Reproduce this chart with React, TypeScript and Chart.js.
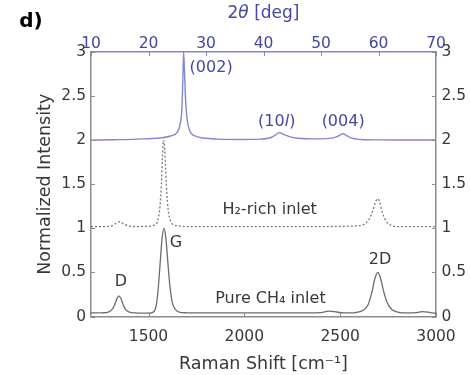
import React, { useEffect, useRef } from "react";
import { Chart, registerables } from "chart.js";

Chart.register(...registerables);

// ---- tick values / labels ----
const ramanTicks = [1500, 2000, 2500, 3000];
const thetaTicks = [10, 20, 30, 40, 50, 60, 70];
const intensityTicks = [0, 0.5, 1, 1.5, 2, 2.5, 3];
const intensityTickLabels = ["0", "0.5", "1", "1.5", "2", "2.5", "3"];

// ---- Raman spectrum, pure CH4 inlet ----
const ch4Shift = [
  1200, 1260, 1290, 1310, 1325, 1335, 1345, 1355, 1365, 1380, 1400, 1430, 1480, 1515,
  1530, 1540, 1550, 1560, 1570, 1580, 1590, 1600, 1611, 1624, 1640, 1660, 1700, 1800,
  2000, 2250, 2400, 2440, 2470, 2520, 2580, 2620, 2645, 2665, 2680, 2696, 2710, 2725,
  2745, 2770, 2800, 2850, 2900, 2930, 2970, 3000,
];
const ch4Intensity = [
  0.04, 0.042, 0.05, 0.08, 0.14, 0.2, 0.235, 0.21, 0.15, 0.08, 0.05, 0.04, 0.038, 0.042,
  0.06, 0.12, 0.3, 0.58, 0.87, 1.0, 0.9, 0.64, 0.36, 0.16, 0.08, 0.05, 0.042, 0.04,
  0.04, 0.04, 0.045, 0.06, 0.055, 0.04, 0.045, 0.07, 0.13, 0.27, 0.42, 0.5, 0.44, 0.3,
  0.16, 0.08, 0.05, 0.04, 0.045, 0.055, 0.045, 0.035,
];

// ---- Raman spectrum, H2-rich inlet ----
const h2Shift = [
  1200, 1280, 1310, 1330, 1350, 1370, 1395, 1440, 1500, 1535, 1550, 1560, 1567, 1573,
  1578, 1583, 1589, 1595, 1602, 1612, 1627, 1650, 1700, 2000, 2400, 2550, 2620, 2650,
  2670, 2685, 2696, 2706, 2720, 2740, 2765, 2800, 3000,
];
const h2Intensity = [
  1.02, 1.02, 1.03, 1.055, 1.075, 1.05, 1.03, 1.02, 1.025, 1.04, 1.1, 1.25, 1.5, 1.8,
  2.0, 1.95, 1.7, 1.42, 1.22, 1.1, 1.045, 1.03, 1.02, 1.02, 1.02, 1.025, 1.04, 1.1,
  1.2, 1.3, 1.335, 1.3, 1.18, 1.08, 1.035, 1.02, 1.02,
];

// ---- XRD pattern ----
const xrdAngle = [
  10, 14, 18, 22, 24, 25, 25.5, 25.8, 26.0, 26.1, 26.25, 26.45, 26.75, 27.2, 28, 29.5,
  32, 36, 39.5, 41.3, 42.1, 42.8, 43.5, 44.5, 46, 49, 51.5, 52.8, 53.8, 54.4, 55.2, 57,
  60, 65, 70,
];
const xrdIntensity = [
  2.0, 2.005, 2.012, 2.025, 2.05, 2.09, 2.18, 2.35, 2.75, 3.0, 2.8, 2.45, 2.22, 2.1, 2.05, 2.025,
  2.012, 2.008, 2.012, 2.03, 2.06, 2.085, 2.065, 2.04, 2.022, 2.015, 2.02, 2.04, 2.072, 2.055, 2.025, 2.008,
  2.003, 2.002, 2.002,
];

// ---- annotation texts ----
const xrdLabels = [
  { parts: [{ t: "(002)" }], x: 27.15, y: 2.815, align: "left" },
  { parts: [{ t: "(10" }, { t: "l", italic: true }, { t: ")" }], x: 42.3, y: 2.21, align: "center" },
  { parts: [{ t: "(004)" }], x: 53.85, y: 2.21, align: "center" },
];
const ramanLabels = [
  { text: "H₂-rich inlet", x: 2132, y: 1.21 },
  { text: "Pure CH₄ inlet", x: 2136, y: 0.195 },
  { text: "D", x: 1356, y: 0.395 },
  { text: "G", x: 1643, y: 0.837 },
  { text: "2D", x: 2708, y: 0.64 },
];

const FONT = "'DejaVu Sans', 'Liberation Sans', sans-serif";
const BLUE_TEXT = "#4646a6";
const BLUE_LINE = "#8686d2";
const GRAY_AXIS = "#8c8c8c";
const TEXT = "#383838";

function toPoints(xs: number[], ys: number[]) {
  return xs.map((x, i) => ({ x, y: ys[i] }));
}

function drawParts(ctx: CanvasRenderingContext2D, parts: any[], x: number, y: number, size: number, align: string) {
  const fonts = parts.map((p) => `${p.italic ? "italic " : ""}${size}px ${FONT}`);
  let total = 0;
  const widths = parts.map((p, i) => {
    ctx.font = fonts[i];
    const w = ctx.measureText(p.t).width;
    total += w;
    return w;
  });
  let cx = align === "center" ? x - total / 2 : x;
  ctx.textAlign = "left";
  ctx.textBaseline = "middle";
  parts.forEach((p, i) => {
    ctx.font = fonts[i];
    ctx.fillText(p.t, cx, y);
    cx += widths[i];
  });
}

const decorPlugin = {
  id: "decor",
  afterDraw(chart: any) {
    const { ctx, chartArea: a, scales } = chart;
    ctx.save();
    // inward tick marks
    ctx.lineWidth = 1;
    ctx.strokeStyle = GRAY_AXIS;
    ctx.beginPath();
    for (const v of intensityTicks) {
      const py = Math.round(scales.y.getPixelForValue(v)) + 0.5;
      ctx.moveTo(a.left, py);
      ctx.lineTo(a.left + 4, py);
      ctx.moveTo(a.right, py);
      ctx.lineTo(a.right - 4, py);
    }
    for (const v of ramanTicks) {
      const px = Math.round(scales.x.getPixelForValue(v)) + 0.5;
      ctx.moveTo(px, a.bottom);
      ctx.lineTo(px, a.bottom - 4);
    }
    ctx.stroke();
    ctx.strokeStyle = BLUE_LINE;
    ctx.beginPath();
    for (const v of thetaTicks) {
      const px = Math.round(scales.xTop.getPixelForValue(v)) + 0.5;
      ctx.moveTo(px, a.top);
      ctx.lineTo(px, a.top + 4);
    }
    ctx.stroke();

    // XRD annotations
    ctx.fillStyle = BLUE_TEXT;
    for (const l of xrdLabels) {
      drawParts(ctx, l.parts, scales.xTop.getPixelForValue(l.x), scales.y.getPixelForValue(l.y), 16, l.align);
    }
    // Raman annotations
    ctx.fillStyle = TEXT;
    ctx.font = `16px ${FONT}`;
    ctx.textAlign = "center";
    ctx.textBaseline = "middle";
    for (const l of ramanLabels) {
      ctx.fillText(l.text, scales.x.getPixelForValue(l.x), scales.y.getPixelForValue(l.y));
    }

    // top axis title
    ctx.fillStyle = BLUE_TEXT;
    drawParts(ctx, [{ t: "2" }, { t: "θ", italic: true }, { t: " [deg]" }], (a.left + a.right) / 2, 14, 17, "center");

    // panel label
    ctx.fillStyle = "#000";
    ctx.font = `bold 20px ${FONT}`;
    ctx.textAlign = "center";
    ctx.textBaseline = "middle";
    ctx.fillText("d)", 31, 22);
    ctx.restore();
  },
};

export default function App() {
  const ref = useRef<HTMLCanvasElement | null>(null);

  useEffect(() => {
    if (!ref.current) return;
    Chart.defaults.font.family = FONT;
    const chart = new Chart(ref.current, {
      type: "line",
      data: {
        datasets: [
          {
            label: "XRD",
            data: toPoints(xrdAngle, xrdIntensity),
            xAxisID: "xTop",
            yAxisID: "y",
            borderColor: BLUE_LINE,
            borderWidth: 1.4,
            pointRadius: 0,
            cubicInterpolationMode: "monotone",
          },
          {
            label: "H2-rich inlet",
            data: toPoints(h2Shift, h2Intensity),
            xAxisID: "x",
            yAxisID: "y",
            borderColor: "#7a7a7a",
            borderWidth: 1.3,
            borderDash: [2, 2],
            pointRadius: 0,
            cubicInterpolationMode: "monotone",
          },
          {
            label: "Pure CH4 inlet",
            data: toPoints(ch4Shift, ch4Intensity),
            xAxisID: "x",
            yAxisID: "y",
            borderColor: "#6c6c6c",
            borderWidth: 1.3,
            pointRadius: 0,
            cubicInterpolationMode: "monotone",
          },
        ],
      },
      options: {
        animation: false,
        responsive: false,
        devicePixelRatio: 1,
        layout: { padding: 0 },
        plugins: { legend: { display: false }, tooltip: { enabled: false } },
        scales: {
          x: {
            type: "linear",
            position: "bottom",
            min: 1200,
            max: 3000,
            afterBuildTicks: (s: any) => {
              s.ticks = ramanTicks.map((value) => ({ value }));
            },
            afterFit: (s: any) => {
              s.height = 58.5;
            },
            grid: { drawOnChartArea: false, drawTicks: false },
            border: { color: GRAY_AXIS, width: 1.5 },
            ticks: {
              autoSkip: false,
              maxRotation: 0,
              padding: 11,
              color: TEXT,
              font: { size: 15.5 },
              callback: (v: any) => String(v),
            },
            title: {
              display: true,
              text: "Raman Shift [cm⁻¹]",
              color: TEXT,
              font: { size: 17.5 },
              padding: 0,
            },
          },
          xTop: {
            type: "linear",
            position: "top",
            min: 10,
            max: 70,
            afterBuildTicks: (s: any) => {
              s.ticks = thetaTicks.map((value) => ({ value }));
            },
            afterFit: (s: any) => {
              s.height = 52;
            },
            grid: { drawOnChartArea: false, drawTicks: false },
            border: { color: BLUE_LINE, width: 1.5 },
            ticks: {
              autoSkip: false,
              maxRotation: 0,
              padding: -1,
              color: BLUE_TEXT,
              font: { size: 15.5 },
              callback: (v: any) => String(v),
            },
          },
          y: {
            type: "linear",
            position: "left",
            min: 0,
            max: 3,
            afterBuildTicks: (s: any) => {
              s.ticks = intensityTicks.map((value) => ({ value }));
            },
            afterFit: (s: any) => {
              s.width = 91;
            },
            grid: { drawOnChartArea: false, drawTicks: false },
            border: { color: GRAY_AXIS, width: 1.5 },
            ticks: {
              autoSkip: false,
              padding: 5,
              color: TEXT,
              font: { size: 15.5 },
              callback: (v: any) => intensityTickLabels[intensityTicks.indexOf(v)] ?? String(v),
            },
            title: {
              display: true,
              text: "Normalized Intensity",
              color: TEXT,
              font: { size: 17.5 },
              padding: { top: 34.5, bottom: 0 },
            },
          },
          y2: {
            type: "linear",
            position: "right",
            min: 0,
            max: 3,
            afterBuildTicks: (s: any) => {
              s.ticks = intensityTicks.map((value) => ({ value }));
            },
            afterFit: (s: any) => {
              s.width = 34;
            },
            grid: { drawOnChartArea: false, drawTicks: false },
            border: { color: GRAY_AXIS, width: 1.5 },
            ticks: {
              autoSkip: false,
              padding: 5.5,
              color: TEXT,
              font: { size: 15.5 },
              callback: (v: any) => intensityTickLabels[intensityTicks.indexOf(v)] ?? String(v),
            },
          },
        },
      },
      plugins: [decorPlugin],
    } as any);
    return () => chart.destroy();
  }, []);

  return (
    <div style={{ position: "fixed", left: 0, top: 0, width: 470, height: 375, background: "#fff" }}>
      <canvas ref={ref} width={470} height={375} style={{ display: "block" }} />
    </div>
  );
}
